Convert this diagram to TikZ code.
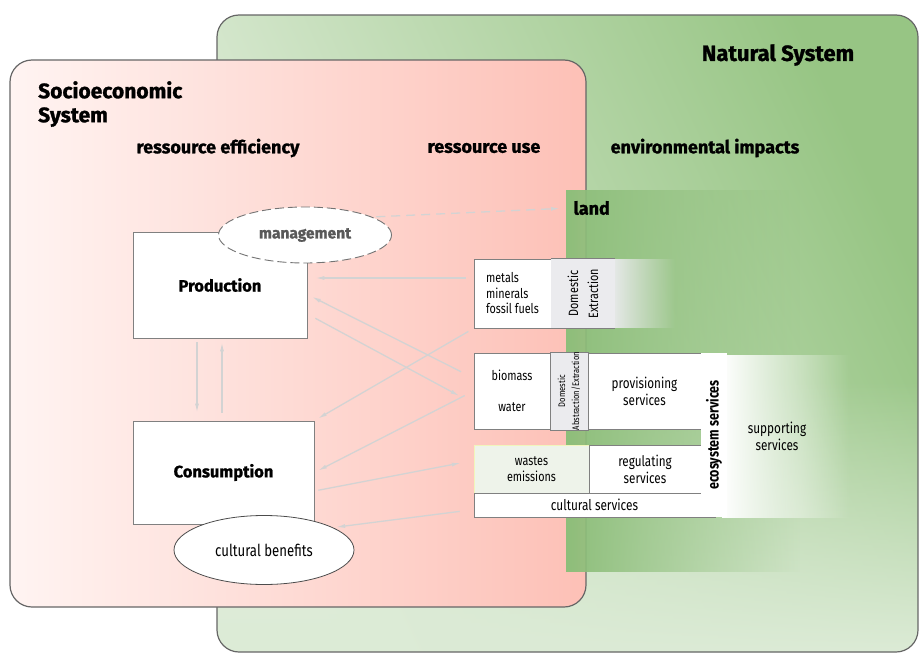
\documentclass[tikz,border=0pt]{standalone}
\usepackage{fontspec}
\setmainfont[FakeStretch=0.8]{Fira Sans}
\newfontfamily\heavyfont[BoldFeatures={FakeBold=1.2}]{Fira Sans}
\usetikzlibrary{arrows.meta,fadings,shapes.geometric,shadows}

\definecolor{natlight}{HTML}{E4EFDF}
\definecolor{natdark}{HTML}{97C584}
\definecolor{soclight}{HTML}{FFF4F2}
\definecolor{socdark}{HTML}{FDC0B6}
\definecolor{landgreen}{HTML}{8DBE7A}
\definecolor{flowgray}{HTML}{D3D3D3}
\definecolor{boxgray}{HTML}{808080}
\definecolor{extgray}{HTML}{EBEBEE}
\definecolor{wastegreen}{HTML}{EEF3EA}

\tikzfading[name=faderight, left color=transparent!0, right color=transparent!100]
\tikzfading[name=fadeup, top color=transparent!100, bottom color=transparent!0]

\tikzset{
  system/.style={draw=black!60,line width=1.2pt,rounded corners=22pt},
  title/.style={font=\heavyfont\fontsize{22}{25}\selectfont\bfseries},
  heading/.style={font=\heavyfont\fontsize{18}{21}\selectfont\bfseries},
  unit/.style={draw=boxgray,fill=white,line width=0.8pt,inner sep=0pt,
    font=\heavyfont\fontsize{16.5}{19}\selectfont\bfseries},
  cell/.style={draw=boxgray,fill=white,line width=0.8pt,inner sep=0pt,
    align=center,font=\fontsize{13.5}{15.5}\selectfont},
  flow/.style={draw=flowgray,line width=1.3pt,-{Latex[length=9pt,width=4pt]},
    shorten >=8pt,shorten <=8pt},
}

\begin{document}
\begin{tikzpicture}[x=1pt,y=-1pt]
  \useasboundingbox (0,0) rectangle (919,653);
  % Systems
  \shade[left color=natlight,right color=natdark,shading angle=115,rounded corners=22pt]
    (217,15) rectangle (918,652);
  \begin{scope}
    \clip[rounded corners=22pt] (217,15) rectangle (918,652);
    \fill[natlight!90!natdark,path fading=fadeup] (217,380) rectangle (918,652);
  \end{scope}
  \draw[system] (217,15) rectangle (918,652);
  \node[title] (natural) at (778,55) {Natural System};
  \draw[system,left color=soclight,right color=socdark] (10,60) rectangle (586,607);
  \node[title,align=left,anchor=north west,inner sep=0pt,
    font=\heavyfont\fontsize{21}{24}\selectfont\bfseries] (socio) at (38,81)
    {Socioeconomic\\System};
  % Headings
  \node[heading] (efficiency) at (218,148) {ressource efficiency};
  \node[heading] (use) at (484,148) {ressource use};
  \node[heading] (impacts) at (705,148) {environmental impacts};
  % Land
  \fill[landgreen,path fading=faderight] (566,190) rectangle (800,572);
  \node[heading,anchor=west] (land) at (570,208) {land};
  % Socioeconomic units
  \node[unit,minimum width=174pt,minimum height=106pt] (production) at (220,285) {Production};
  \node[unit,minimum width=181pt,minimum height=103pt] (consumption) at (223.5,472.5) {Consumption};
  \node[ellipse,draw=black!55,dash pattern=on 9pt off 4pt,line width=0.9pt,fill=white,
    minimum width=173pt,minimum height=56pt,text=black!65,
    font=\heavyfont\fontsize{15.5}{18}\selectfont\bfseries] (management) at (305,235) {management};
  \node[ellipse,draw=black!70,line width=0.8pt,fill=white,minimum width=180pt,
    minimum height=69pt,font=\fontsize{16.5}{19}\selectfont] (benefits) at (264,550) {cultural benefits};
  % Resources
  \node[cell,minimum width=77pt,minimum height=69pt,align=left] (metals) at (512.5,293.5)
    {metals\\minerals\\fossil fuels};
  \fill[extgray,path fading=faderight] (610,259) rectangle (675,328);
  \node[cell,draw=none,fill=extgray,rotate=90,minimum width=69pt,minimum height=64pt,
    font=\fontsize{13.5}{20}\selectfont] (domext) at (583,293.5) {Domestic\\Extraction};
  \draw[boxgray,line width=0.8pt] (metals.north east) -- (metals.north east -| domext.south);
  \draw[boxgray,line width=0.8pt] (metals.south east) -- (metals.south east -| domext.south);
  \node[cell,minimum width=76pt,minimum height=76pt] (biomass) at (512,391)
    {biomass\\[16pt]water};
  \node[cell,fill=extgray,rotate=90,minimum width=76pt,minimum height=38pt,
    font=\fontsize{9.5}{14}\selectfont] (domabs) at (569,391) {Domestic\\Abstraction/Extraction};
  \node[cell,minimum width=113pt,minimum height=76pt,font=\fontsize{14.6}{17}\selectfont]
    (provisioning) at (644.5,391) {provisioning\\services};
  \node[cell,fill=wastegreen,draw=wastegreen!80!yellow,minimum width=115pt,minimum height=48pt]
    (wastes) at (531.5,469) {wastes\\emissions};
  \node[cell,minimum width=112pt,minimum height=48pt,font=\fontsize{14.6}{17}\selectfont]
    (regulating) at (645,469) {regulating\\services};
  \node[cell,minimum width=241pt,minimum height=24pt,font=\fontsize{14.8}{17}\selectfont]
    (cultural) at (594.5,505) {cultural services};
  % Ecosystem services
  \fill[white,path fading=faderight] (722,355) rectangle (850,518);
  \node[rotate=90,fill=white,inner sep=0pt,minimum width=164pt,minimum height=26pt,
    font=\fontsize{15.6}{18}\selectfont\bfseries] (ecosystem) at (714,435) {ecosystem services};
  \node[align=center,font=\fontsize{14.7}{17}\selectfont] (supporting) at (777,436)
    {supporting\\services};
  % Flows
  \draw[flow,dash pattern=on 9pt off 6pt,shorten <=4pt,shorten >=10pt] (management.15) -- (land.west);
  \draw[flow] ([yshift=15.5pt]metals.west) -- ([yshift=7pt]production.east);
  \draw[flow,shorten <=14pt,shorten >=5pt] ([yshift=13pt]biomass.west) -- ([yshift=-9.5pt]production.east);
  \draw[flow,shorten <=9pt,shorten >=16pt] ([yshift=-29pt]production.east) -- ([yshift=-12.6pt]biomass.west);
  \draw[flow,shorten <=6pt,shorten >=4pt] (metals.south west) -- (consumption.north east);
  \draw[flow,shorten <=10pt,shorten >=4pt] (biomass.west) -- (consumption.east);
  \draw[flow,shorten <=4pt,shorten >=13pt] ([yshift=-18.5pt]consumption.east) -- ([yshift=8.5pt]wastes.west);
  \draw[flow,shorten <=14pt,shorten >=3pt] ([yshift=-4.6pt]cultural.west) -- (benefits.18);
  \draw[flow,shorten <=4pt,shorten >=8pt] ([xshift=-23pt]production.south)
    -- ([xshift=-23pt]production.south |- consumption.north);
  \draw[flow,shorten <=8pt,shorten >=4pt] ([xshift=2pt]production.south |- consumption.north)
    -- ([xshift=2pt]production.south);
\end{tikzpicture}
\end{document}
